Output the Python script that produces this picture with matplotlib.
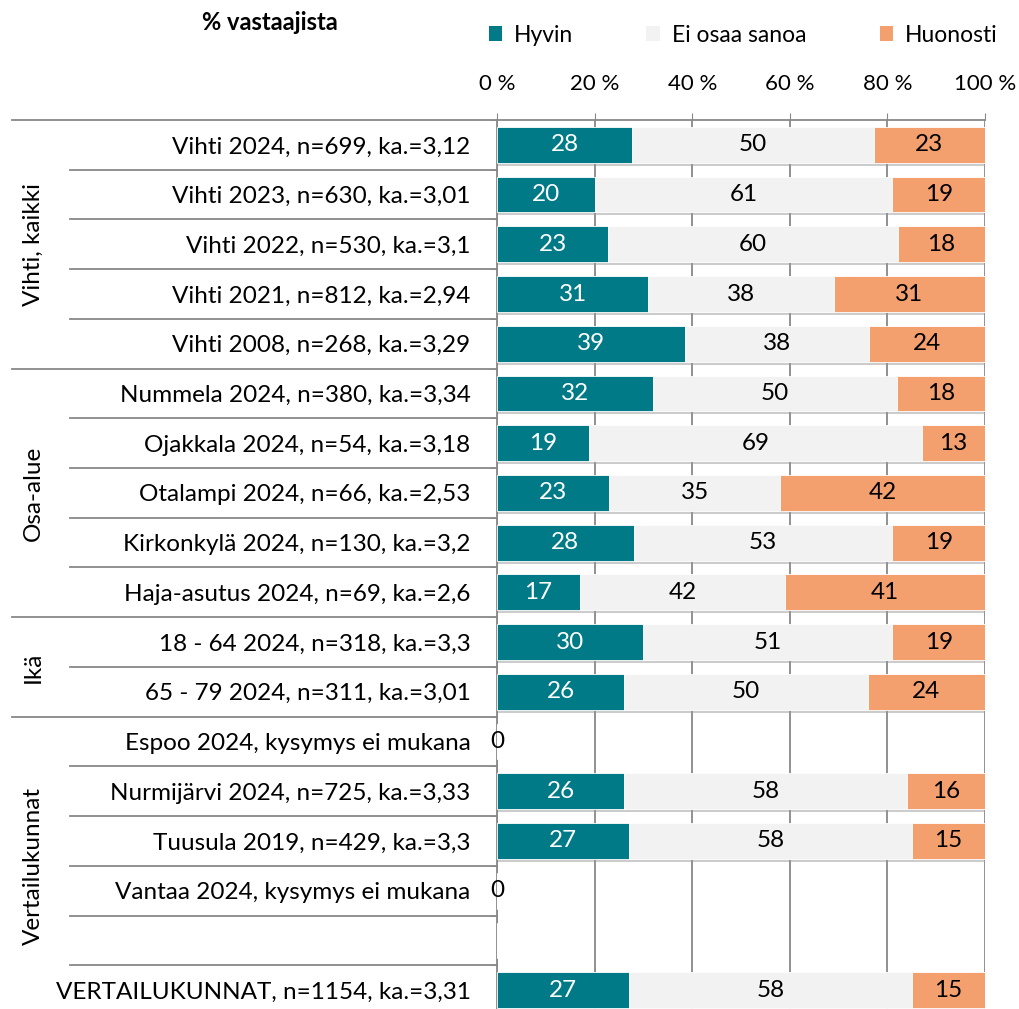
import numpy as np
import matplotlib.pyplot as plt
import matplotlib.transforms as mtransforms
from matplotlib.lines import Line2D
from matplotlib.patches import Patch

plt.rcParams['font.family'] = ['Lato', 'DejaVu Sans']

# data
labels = [
    "Vihti 2024, n=699, ka.=3,12",
    "Vihti 2023, n=630, ka.=3,01",
    "Vihti 2022, n=530, ka.=3,1",
    "Vihti 2021, n=812, ka.=2,94",
    "Vihti 2008, n=268, ka.=3,29",
    "Nummela 2024, n=380, ka.=3,34",
    "Ojakkala 2024, n=54, ka.=3,18",
    "Otalampi 2024, n=66, ka.=2,53",
    "Kirkonkylä 2024, n=130, ka.=3,2",
    "Haja-asutus 2024, n=69, ka.=2,6",
    "18 - 64 2024, n=318, ka.=3,3",
    "65 - 79 2024, n=311, ka.=3,01",
    "Espoo 2024, kysymys ei mukana",
    "Nurmijärvi 2024, n=725, ka.=3,33",
    "Tuusula 2019, n=429, ka.=3,3",
    "Vantaa 2024, kysymys ei mukana",
    "",
    "VERTAILUKUNNAT, n=1154, ka.=3,31",
]
hyvin = [28, 20, 23, 31, 39, 32, 19, 23, 28, 17, 30, 26, 0, 26, 27, 0, None, 27]
eos = [50, 61, 60, 38, 38, 50, 69, 35, 53, 42, 51, 50, 0, 58, 58, 0, None, 58]
huonosti = [23, 19, 18, 31, 24, 18, 13, 42, 19, 41, 19, 24, 0, 16, 15, 0, None, 15]
series_names = ["Hyvin", "Ei osaa sanoa", "Huonosti"]
groups = [("Vihti, kaikki", 0, 4), ("Osa-alue", 5, 9), ("Ikä", 10, 11),
          ("Vertailukunnat", 12, 17)]
xticks = [0, 20, 40, 60, 80, 100]

colors = ["#007A87", "#F2F2F2", "#F4A06E"]
text_colors = ["white", "black", "black"]

W, H = 1020, 1009
fig = plt.figure(figsize=(W / 100, H / 100), dpi=100)
ax = fig.add_axes([497 / W, 1 - 1015 / H, 488 / W, 895 / H])

n = len(labels)
y = np.arange(n)
fs_lab = 17.5
fs_val = 17.5

tot = np.array([sum(x or 0 for x in (hyvin[i], eos[i], huonosti[i])) for i in range(n)],
               dtype=float)
has = tot > 0

# soft shadow under the bars
ax.barh(y[has] + 0.06, 100, left=0.3, height=0.72, color='#9a9a9a', alpha=0.5,
        zorder=2.6)

left = np.zeros(n)
for k, vals in enumerate([hyvin, eos, huonosti]):
    v = np.array([0 if a is None else a for a in vals], dtype=float)
    w = np.where(has, v / np.where(has, tot, 1) * 100, 0)
    ax.barh(y, w, left=left, height=0.72, color=colors[k], zorder=3,
            edgecolor='white', linewidth=0.6)
    for i in range(n):
        if has[i]:
            ax.text(left[i] + w[i] / 2, y[i], str(int(v[i])), ha='center',
                    va='center', color=text_colors[k], fontsize=fs_val, zorder=4)
    left = left + w

for i in range(n):
    if labels[i] and not has[i]:
        ax.text(0, y[i], "0", ha='center', va='center', fontsize=fs_val, zorder=4)

ax.set_xlim(0, 100)
ax.set_ylim(n - 0.5, -0.5)
ax.set_xticks(xticks)
ax.set_xticklabels([f"{t} %" for t in xticks], fontsize=16)
ax.xaxis.tick_top()
ax.tick_params(axis='x', length=5, color='#888888', pad=14)
ax.set_yticks(y)
ax.set_yticklabels(labels, fontsize=fs_lab)
ax.tick_params(axis='y', length=0, pad=19)
ax.set_yticks(np.arange(-0.5, n, 1), minor=True)
ax.tick_params(axis='y', which='minor', length=5, color='#888888')
ax.grid(axis='x', color='#888888', linewidth=1.3, zorder=0)
for s in ['right', 'bottom']:
    ax.spines[s].set_visible(False)
for s in ['left', 'top']:
    ax.spines[s].set_color('#888888')
    ax.spines[s].set_linewidth(1.3)

# separators in label area
trans = mtransforms.blended_transform_factory(fig.transFigure, ax.transData)
group_starts = [g[1] for g in groups]
for b in range(n):
    x0 = 12 / W if b in group_starts else 70 / W
    fig.add_artist(Line2D([x0, 497 / W], [b - 0.5, b - 0.5], transform=trans,
                          color='#888888', linewidth=1.3))

for name, a, b in groups:
    t = fig.text(33 / W, 0, name, rotation=90, ha='center', va='center',
                 fontsize=fs_lab, transform=trans)
    t.set_y((a + b) / 2)

fig.text(270 / W, 1 - 22 / H, "% vastaajista", ha='center', va='center',
         fontsize=17, fontweight='bold')

handles = [Patch(facecolor=c) for c in colors]
fig.legend(handles, series_names, loc='center', bbox_to_anchor=(743 / W, 1 - 35 / H),
           ncol=3, frameon=False, fontsize=16.5, handlelength=0.6,
           handleheight=0.6, columnspacing=3.2, handletextpad=0.5)

fig.savefig("out.png", dpi=100)
